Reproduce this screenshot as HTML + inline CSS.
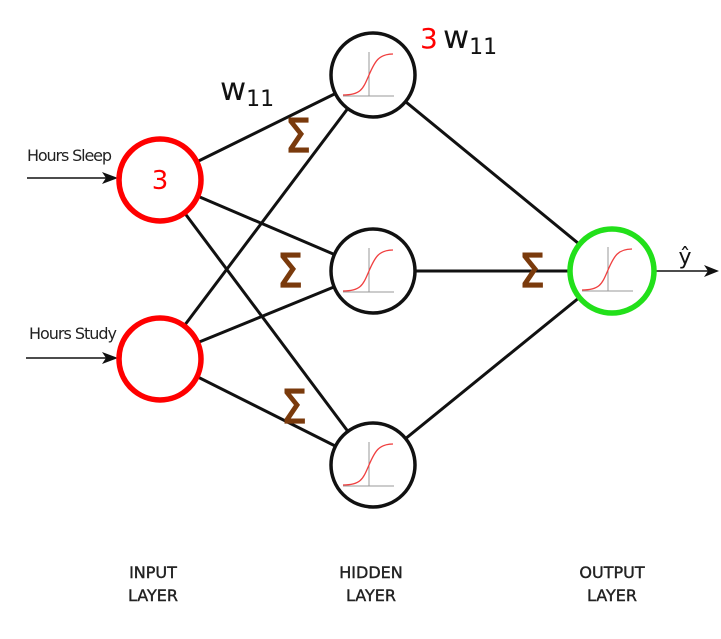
<!DOCTYPE html>
<html><head><meta charset="utf-8"><style>
html,body{margin:0;padding:0;background:#fff;}
svg{display:block;}
text{font-family:"DejaVu Sans","Liberation Sans",sans-serif;}
</style></head><body>
<svg width="721" height="639" viewBox="0 0 721 639" xmlns="http://www.w3.org/2000/svg">
<defs>
<g id="sig">
<line x1="-30" y1="21" x2="21" y2="21" stroke="#999" stroke-width="1"/>
<line x1="-4" y1="-23" x2="-4" y2="21" stroke="#999" stroke-width="1"/>
<path d="M-30,20 C-12,20 -10,14 -4,0 C2,-14 6,-21 20,-21" fill="none" stroke="#f04040" stroke-width="1.3"/>
</g>
</defs>
<g stroke="#111" stroke-width="3" fill="none">
<line x1="160" y1="180" x2="373" y2="75"/>
<line x1="160" y1="180" x2="373" y2="271"/>
<line x1="160" y1="180" x2="373" y2="465"/>
<line x1="160" y1="358" x2="373" y2="75"/>
<line x1="160" y1="358" x2="373" y2="271"/>
<line x1="160" y1="358" x2="373" y2="465"/>
<line x1="373" y1="75" x2="612" y2="271"/>
<line x1="373" y1="271" x2="612" y2="271"/>
<line x1="373" y1="465" x2="612" y2="271"/>
</g>
<line x1="27" y1="178" x2="108" y2="178" stroke="#111" stroke-width="1.5"/>
<polygon points="118,178 102,172 106,178 102,184" fill="#111"/>
<line x1="26" y1="358" x2="108" y2="358" stroke="#111" stroke-width="1.5"/>
<polygon points="118,358 102,352 106,358 102,364" fill="#111"/>
<line x1="655" y1="271" x2="708" y2="271" stroke="#111" stroke-width="1.5"/>
<polygon points="719,271 704,265 708,271 704,277" fill="#111"/>
<circle cx="160" cy="180" r="41" fill="#fff" stroke="#f00" stroke-width="5.5"/>
<circle cx="160" cy="359" r="41" fill="#fff" stroke="#f00" stroke-width="5.5"/>
<g fill="#fff" stroke="#111" stroke-width="3.5">
<circle cx="373" cy="75" r="42"/>
<circle cx="373" cy="271" r="42"/>
<circle cx="373" cy="465" r="42"/>
</g>
<circle cx="612" cy="271" r="42" fill="#fff" stroke="#22e01a" stroke-width="5.5"/>
<use href="#sig" x="373" y="75"/>
<use href="#sig" x="373" y="271"/>
<use href="#sig" x="373" y="465"/>
<use href="#sig" x="612" y="270"/>
<text x="160" y="189" font-size="26" fill="#f00" text-anchor="middle">3</text>
<text x="27" y="161" font-size="16" fill="#222" font-family="Liberation Sans Narrow, Liberation Sans, sans-serif" textLength="85">Hours Sleep</text>
<text x="29" y="339" font-size="16" fill="#222" font-family="Liberation Sans Narrow, Liberation Sans, sans-serif" textLength="88">Hours Study</text>
<text x="220" y="100" font-size="32" fill="#111">w<tspan font-size="22" dy="6">11</tspan></text>
<text x="420" y="48" font-size="28" fill="#f00">3</text>
<text x="443" y="48" font-size="32" fill="#111">w<tspan font-size="22" dy="6">11</tspan></text>
<g fill="#7a3a0c" stroke="#7a3a0c" stroke-width="1.2" font-size="46" text-anchor="middle">
<text x="298" y="152" textLength="26" lengthAdjust="spacingAndGlyphs">Σ</text>
<text x="290" y="287" textLength="26" lengthAdjust="spacingAndGlyphs">Σ</text>
<text x="294" y="423" textLength="26" lengthAdjust="spacingAndGlyphs">Σ</text>
<text x="532" y="287" textLength="26" lengthAdjust="spacingAndGlyphs">Σ</text>
</g>
<text x="685" y="264" font-size="22" fill="#111" text-anchor="middle">ŷ</text>
<g font-size="16" fill="#222" stroke="#222" stroke-width="0.4" text-anchor="middle">
<text x="153" y="578">INPUT</text><text x="153" y="601">LAYER</text>
<text x="371" y="578">HIDDEN</text><text x="371" y="601">LAYER</text>
<text x="612" y="578">OUTPUT</text><text x="612" y="601">LAYER</text>
</g>
</svg>
</body></html>
